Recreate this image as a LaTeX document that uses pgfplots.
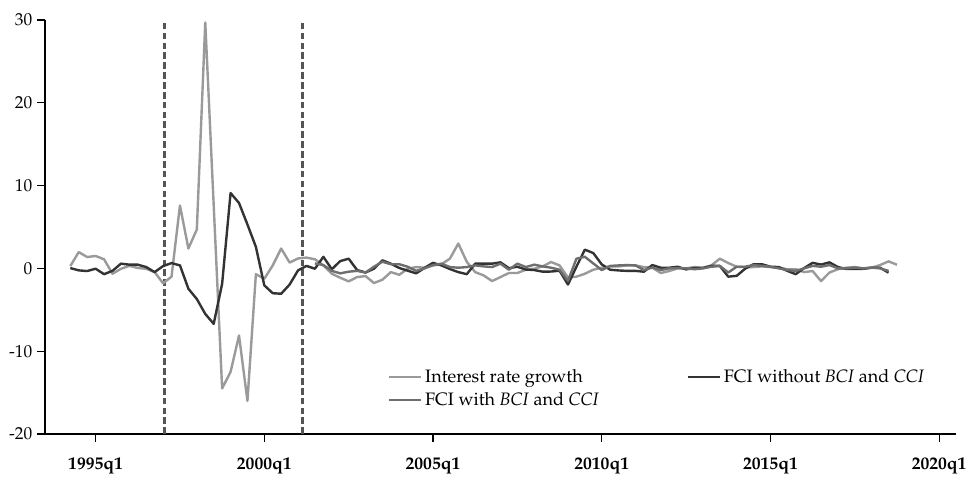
\documentclass[border=0pt]{standalone}
\usepackage[T1]{fontenc}
\usepackage{mathpazo}
\usepackage{pgfplots}
\usepackage{pgfplotstable}
\pgfplotsset{compat=1.18}
\definecolor{lightg}{HTML}{9A9A9A}
\definecolor{midg}{HTML}{6E6E6E}
\definecolor{darkg}{HTML}{333333}
\definecolor{dashg}{HTML}{555555}
% t = quarters since 1995q1
\pgfplotstableread{
t v
-3 0.28
-2 1.97
-1 1.37
0 1.5
1 1.1
2 -0.65
3 -0.05
4 0.3
5 0.05
6 -0.05
7 -0.45
8 -1.8
9 -1.0
10 7.6
11 2.4
12 4.7
13 29.7
14 7.6
15 -14.5
16 -12.5
17 -8.1
18 -16
19 -0.7
20 -1.25
21 0.36
22 2.4
23 0.7
24 1.2
25 1.3
26 1.1
27 0.36
28 -0.65
29 -1.13
30 -1.57
31 -1.05
32 -0.93
33 -1.77
34 -1.37
35 -0.45
36 -0.77
37 -0.04
38 0.16
39 0.08
40 0.36
41 0.5
42 1.17
43 3.0
44 0.8
45 -0.45
46 -0.85
47 -1.53
48 -1.05
49 -0.56
50 -0.56
51 -0.16
52 -0.04
53 0.24
54 0.77
55 0.36
56 -1.1
57 -1.0
58 -0.65
59 -0.16
60 0.08
61 0.24
62 0.24
63 0.36
64 0.36
65 0.16
66 0.08
67 -0.56
68 -0.32
69 0.0
70 0.0
71 0.16
72 0.08
73 0.36
74 1.17
75 0.65
76 0.2
77 0.16
78 0.16
79 0.24
80 0.16
81 0.08
82 -0.1
83 -0.1
84 -0.45
85 -0.32
86 -1.53
87 -0.5
88 -0.1
89 0.08
90 0.16
91 0.0
92 0.08
93 0.4
94 0.85
95 0.44
}\irate
\pgfplotstableread{
t v
-3 0.04
-2 -0.24
-1 -0.32
0 -0.04
1 -0.7
2 -0.3
3 0.57
4 0.45
5 0.45
6 0.16
7 -0.45
8 0.28
9 0.64
10 0.36
11 -2.46
12 -3.7
13 -5.5
14 -6.7
15 -1.85
16 9.1
17 7.9
18 5.3
19 2.6
20 -2.05
21 -3.0
22 -3.06
23 -1.95
24 -0.24
25 0.3
26 -0.04
27 1.4
28 -0.1
29 0.88
30 1.17
31 -0.2
32 -0.5
33 -0.04
34 0.97
35 0.57
36 0.05
37 -0.28
38 -0.6
39 0.06
40 0.67
41 0.36
42 -0.08
43 -0.45
44 -0.7
45 0.57
46 0.57
47 0.57
48 0.73
49 0.02
50 0.2
51 -0.14
52 -0.2
53 -0.4
54 -0.38
55 -0.28
56 -1.95
57 0.2
58 2.26
59 1.85
60 0.48
61 -0.16
62 -0.25
63 -0.3
64 -0.3
65 -0.4
66 0.4
67 0.08
68 0.08
69 0.2
70 -0.12
71 0.05
72 0.05
73 0.3
74 0.3
75 -1.0
76 -0.9
77 -0.04
78 0.5
79 0.5
80 0.2
81 0.16
82 -0.3
83 -0.7
84 0.04
85 0.67
86 0.46
87 0.73
88 0.16
89 -0.08
90 -0.08
91 -0.05
92 0.08
93 0.08
94 -0.52
}\fcinot
\pgfplotstableread{
t v
26 0.6
27 0.4
28 -0.3
29 -0.6
30 -0.4
31 -0.3
32 -0.5
33 0.2
34 0.8
35 0.5
36 0.5
37 0.2
38 -0.3
39 0.0
40 0.4
41 0.57
42 0.16
43 0.08
44 0.16
45 0.36
46 0.24
47 0.16
48 0.57
49 -0.16
50 0.57
51 0.16
52 0.45
53 0.24
54 0.08
55 -0.16
56 -1.5
57 1.17
58 1.4
59 0.6
60 -0.2
61 0.3
62 0.36
63 0.4
64 0.36
65 -0.2
66 0.1
67 -0.2
68 0.0
69 0.05
70 0.0
71 -0.1
72 0.0
73 0.2
74 0.3
75 -0.5
76 0.2
77 0.2
78 0.4
79 0.3
80 0.2
81 0.0
82 -0.2
83 -0.3
84 0.0
85 0.3
86 0.2
87 0.4
88 0.0
89 0.0
90 0.1
91 0.0
92 0.1
93 0.0
94 -0.3
}\fciwith
\begin{document}
\begin{tikzpicture}
\begin{axis}[
  scale only axis, width=683.25pt, height=310.5pt,
  xmin=-6, xmax=102, ymin=-20, ymax=30,
  axis lines=left, axis line style={-, black, line width=0.8pt},
  tick align=outside, major tick length=6pt,
  tick style={black, line width=0.8pt},
  xtick={0,20,40,60,80,100},
  xticklabels={1995q1,2000q1,2005q1,2010q1,2015q1,2020q1},
  ytick={-20,-10,0,10,20,30},
  yticklabels={-20,-10,0,10,20,30},
  xticklabel style={font=\fontsize{13.2}{16}\selectfont\bfseries, yshift=-8pt},
  yticklabel style={font=\fontsize{13}{15}\selectfont},
  legend columns=2,
  legend cell align=left,
  legend image code/.code={\draw[#1] (0pt,0pt) -- (24pt,0pt);},
  legend style={draw=none, fill=none, at={(0.372,0.17)}, anchor=north west,
    font=\fontsize{13.5}{16}\selectfont,
    /tikz/every even column/.append style={column sep=64pt},
    row sep=2pt},
]
\addplot[dashg, line width=2pt, dash pattern=on 5pt off 2.4pt, forget plot] coordinates {(8.2,-20) (8.2,30)};
\addplot[dashg, line width=2pt, dash pattern=on 5pt off 2.4pt, forget plot] coordinates {(24.5,-20) (24.5,30)};
\addplot[lightg, line width=1.8pt, line join=round] table[x=t,y=v] {\irate};
\addlegendentry{Interest rate growth}
\addplot[darkg, line width=1.8pt, line join=round] table[x=t,y=v] {\fcinot};
\addlegendentry{FCI without \textit{BCI} and \textit{CCI}}
\addplot[midg, line width=1.8pt, line join=round] table[x=t,y=v] {\fciwith};
\addlegendentry{FCI with \textit{BCI} and \textit{CCI}}
\end{axis}
\pgfresetboundingbox
\path[use as bounding box] ([xshift=-33.75pt,yshift=-38.25pt]current axis.south west) rectangle ([xshift=12pt,yshift=15pt]current axis.north east);
\end{tikzpicture}
\end{document}
